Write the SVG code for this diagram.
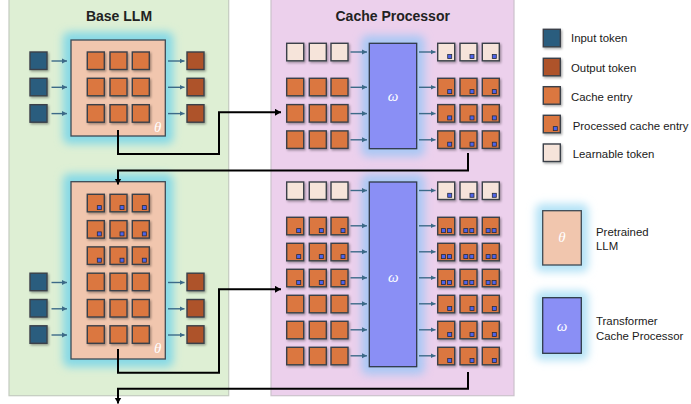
<svg xmlns="http://www.w3.org/2000/svg" width="691" height="404" viewBox="0 0 691 404">
<style>
.panel-g{fill:#deefd4;stroke:#c4cbc0;stroke-width:1.2}
.panel-p{fill:#ecd0ec;stroke:#cbc2cb;stroke-width:1.2}
.title{font-family:"Liberation Sans",Arial,sans-serif;font-weight:bold;font-size:14px;fill:#222;text-anchor:middle}
.lbl{font-family:"Liberation Sans",Arial,sans-serif;font-size:11.4px;fill:#1a1a1a}
.greek{font-family:"Liberation Serif","DejaVu Serif",serif;font-style:italic;font-size:15px;fill:#fff;text-anchor:middle}
.llm{fill:#f1c6ae;stroke:#3d4a55;stroke-width:1.3}
.omega{fill:#8a8ff5;stroke:#2f3a48;stroke-width:1.3}
.glc{fill:#86d9e6}
.glb{fill:#aac8f4}
.gll{fill:#b4e2f6}
.cell{stroke:#3a4149;stroke-width:1.4}
.c{fill:#db7740}
.i{fill:#2b5d7e}
.o{fill:#ae5229}
.l{fill:#f6e4da}
.dot{fill:#5064ea;stroke:#262c3c;stroke-width:0.8}
.ta{stroke:#3c6a88;stroke-width:1.4;fill:none;marker-end:url(#tah)}
.conn{stroke:#000;stroke-width:2;fill:none;marker-end:url(#cah)}
</style>
<defs>
<filter id="blur" x="-40%" y="-40%" width="180%" height="180%"><feGaussianBlur stdDeviation="4"/></filter>
<filter id="sh" x="-30%" y="-30%" width="170%" height="170%"><feDropShadow dx="1.2" dy="1.4" stdDeviation="0.9" flood-color="#000" flood-opacity="0.35"/></filter>
<marker id="tah" markerUnits="userSpaceOnUse" markerWidth="6" markerHeight="6" refX="5" refY="3" orient="auto"><path d="M0,0.5 L5,3 L0,5.5 Z" fill="#3c6a88"/></marker>
<marker id="cah" markerUnits="userSpaceOnUse" markerWidth="8" markerHeight="8" refX="6" refY="3.5" orient="auto"><path d="M0,0 L6,3.5 L0,7 Z" fill="#000"/></marker>
<g id="cc"><rect class="cell c" width="17" height="17.5"/></g>
<g id="cp"><rect class="cell c" width="17" height="17.5"/><rect class="dot" x="10" y="11.3" width="4" height="4"/></g>
<g id="cp2"><rect class="cell c" width="17" height="17.5"/><rect class="dot" x="3.8" y="11.3" width="4" height="4"/><rect class="dot" x="9.8" y="11.3" width="4" height="4"/></g>
<g id="ci"><rect class="cell i" width="17" height="17.5"/></g>
<g id="co"><rect class="cell o" width="17" height="17.5"/></g>
<g id="cl"><rect class="cell l" width="17" height="17.5"/></g>
<g id="clp"><rect class="cell l" width="17" height="17.5"/><rect class="dot" x="10" y="11.3" width="4" height="4"/></g>
</defs>

<g id="panel-base-llm">
<rect class="panel-g" x="9" y="-1" width="219.7" height="396.7"/>
<text class="title" x="119" y="21">Base LLM</text>
</g>
<g id="panel-cache-processor">
<rect class="panel-p" x="271" y="-1" width="243" height="396.7"/>
<text class="title" x="392.7" y="21">Cache Processor</text>
</g>

<g id="llm-top">
<rect class="glc" x="63" y="32" width="110.3" height="112" rx="6" filter="url(#blur)"/>
<rect class="llm" x="71" y="40" width="94.3" height="96"/>
<g filter="url(#sh)">
<use href="#cc" x="87.3" y="52"/><use href="#cc" x="110" y="52"/><use href="#cc" x="132.3" y="52"/>
<use href="#cc" x="87.3" y="78.3"/><use href="#cc" x="110" y="78.3"/><use href="#cc" x="132.3" y="78.3"/>
<use href="#cc" x="87.3" y="104.7"/><use href="#cc" x="110" y="104.7"/><use href="#cc" x="132.3" y="104.7"/>
<use href="#ci" x="30" y="52"/><use href="#ci" x="30" y="78.3"/><use href="#ci" x="30" y="104.7"/>
<use href="#co" x="187" y="52"/><use href="#co" x="187" y="78.3"/><use href="#co" x="187" y="104.7"/>
</g>
<text class="greek" x="157.7" y="131.5">θ</text>
<path class="ta" d="M51.5,61 H67"/><path class="ta" d="M51.5,87.3 H67"/><path class="ta" d="M51.5,113.6 H67"/>
<path class="ta" d="M168,61 H184.5"/><path class="ta" d="M168,87.3 H184.5"/><path class="ta" d="M168,113.6 H184.5"/>
</g>

<g id="llm-bottom">
<rect class="glc" x="63" y="173.7" width="110.3" height="193.3" rx="6" filter="url(#blur)"/>
<rect class="llm" x="71" y="181.7" width="94.3" height="177.3"/>
<g filter="url(#sh)">
<use href="#cp" x="87.3" y="194.3"/><use href="#cp" x="110" y="194.3"/><use href="#cp" x="132.3" y="194.3"/>
<use href="#cp" x="87.3" y="220.6"/><use href="#cp" x="110" y="220.6"/><use href="#cp" x="132.3" y="220.6"/>
<use href="#cp" x="87.3" y="246.9"/><use href="#cp" x="110" y="246.9"/><use href="#cp" x="132.3" y="246.9"/>
<use href="#cc" x="87.3" y="273.2"/><use href="#cc" x="110" y="273.2"/><use href="#cc" x="132.3" y="273.2"/>
<use href="#cc" x="87.3" y="299.5"/><use href="#cc" x="110" y="299.5"/><use href="#cc" x="132.3" y="299.5"/>
<use href="#cc" x="87.3" y="325.8"/><use href="#cc" x="110" y="325.8"/><use href="#cc" x="132.3" y="325.8"/>
<use href="#ci" x="30" y="273.2"/><use href="#ci" x="30" y="299.5"/><use href="#ci" x="30" y="325.8"/>
<use href="#co" x="187" y="273.2"/><use href="#co" x="187" y="299.5"/><use href="#co" x="187" y="325.8"/>
</g>
<text class="greek" x="157.7" y="353">θ</text>
<path class="ta" d="M51.5,282.5 H67"/><path class="ta" d="M51.5,308.8 H67"/><path class="ta" d="M51.5,335 H67"/>
<path class="ta" d="M168,282.5 H184.5"/><path class="ta" d="M168,308.8 H184.5"/><path class="ta" d="M168,335 H184.5"/>
</g>

<g id="cache-processor-top">
<rect class="glb" x="361.3" y="35.3" width="63.4" height="121.4" rx="6" filter="url(#blur)"/>
<rect class="omega" x="369.3" y="43.3" width="47.4" height="105.4"/>
<text class="greek" x="393" y="100.5">ω</text>
<g filter="url(#sh)">
<use href="#cl" x="286.7" y="43.3"/><use href="#cl" x="309.3" y="43.3"/><use href="#cl" x="331" y="43.3"/>
<use href="#cc" x="286.7" y="78.3"/><use href="#cc" x="309.3" y="78.3"/><use href="#cc" x="331" y="78.3"/>
<use href="#cc" x="286.7" y="104.6"/><use href="#cc" x="309.3" y="104.6"/><use href="#cc" x="331" y="104.6"/>
<use href="#cc" x="286.7" y="130.9"/><use href="#cc" x="309.3" y="130.9"/><use href="#cc" x="331" y="130.9"/>
<use href="#clp" x="437.7" y="43.3"/><use href="#clp" x="460" y="43.3"/><use href="#clp" x="482.3" y="43.3"/>
<use href="#cp" x="437.7" y="78.3"/><use href="#cp" x="460" y="78.3"/><use href="#cp" x="482.3" y="78.3"/>
<use href="#cp" x="437.7" y="104.6"/><use href="#cp" x="460" y="104.6"/><use href="#cp" x="482.3" y="104.6"/>
<use href="#cp" x="437.7" y="130.9"/><use href="#cp" x="460" y="130.9"/><use href="#cp" x="482.3" y="130.9"/>
</g>
<path class="ta" d="M350.5,52 H367"/><path class="ta" d="M350.5,87.3 H367"/><path class="ta" d="M350.5,113.6 H367"/><path class="ta" d="M350.5,139.8 H367"/>
<path class="ta" d="M419,52 H435.5"/><path class="ta" d="M419,87.3 H435.5"/><path class="ta" d="M419,113.6 H435.5"/><path class="ta" d="M419,139.8 H435.5"/>
</g>

<g id="cache-processor-bottom">
<rect class="glb" x="361.3" y="174" width="63.4" height="200.7" rx="6" filter="url(#blur)"/>
<rect class="omega" x="369.3" y="182" width="47.4" height="184.7"/>
<text class="greek" x="393.3" y="281.5">ω</text>
<g filter="url(#sh)">
<use href="#cl" x="286.7" y="182"/><use href="#cl" x="309.3" y="182"/><use href="#cl" x="331" y="182"/>
<use href="#cp" x="286.7" y="217.3"/><use href="#cp" x="309.3" y="217.3"/><use href="#cp" x="331" y="217.3"/>
<use href="#cp" x="286.7" y="243.3"/><use href="#cp" x="309.3" y="243.3"/><use href="#cp" x="331" y="243.3"/>
<use href="#cp" x="286.7" y="269.3"/><use href="#cp" x="309.3" y="269.3"/><use href="#cp" x="331" y="269.3"/>
<use href="#cc" x="286.7" y="295.3"/><use href="#cc" x="309.3" y="295.3"/><use href="#cc" x="331" y="295.3"/>
<use href="#cc" x="286.7" y="321.3"/><use href="#cc" x="309.3" y="321.3"/><use href="#cc" x="331" y="321.3"/>
<use href="#cc" x="286.7" y="347.3"/><use href="#cc" x="309.3" y="347.3"/><use href="#cc" x="331" y="347.3"/>
<use href="#clp" x="437.7" y="182"/><use href="#clp" x="460" y="182"/><use href="#clp" x="482.3" y="182"/>
<use href="#cp2" x="437.7" y="217.3"/><use href="#cp2" x="460" y="217.3"/><use href="#cp2" x="482.3" y="217.3"/>
<use href="#cp2" x="437.7" y="243.3"/><use href="#cp2" x="460" y="243.3"/><use href="#cp2" x="482.3" y="243.3"/>
<use href="#cp2" x="437.7" y="269.3"/><use href="#cp2" x="460" y="269.3"/><use href="#cp2" x="482.3" y="269.3"/>
<use href="#cp" x="437.7" y="295.3"/><use href="#cp" x="460" y="295.3"/><use href="#cp" x="482.3" y="295.3"/>
<use href="#cp" x="437.7" y="321.3"/><use href="#cp" x="460" y="321.3"/><use href="#cp" x="482.3" y="321.3"/>
<use href="#cp" x="437.7" y="347.3"/><use href="#cp" x="460" y="347.3"/><use href="#cp" x="482.3" y="347.3"/>
</g>
<path class="ta" d="M350.5,190.5 H367"/><path class="ta" d="M350.5,225.8 H367"/><path class="ta" d="M350.5,251.8 H367"/><path class="ta" d="M350.5,277.8 H367"/><path class="ta" d="M350.5,303.8 H367"/><path class="ta" d="M350.5,329.8 H367"/><path class="ta" d="M350.5,355.8 H367"/>
<path class="ta" d="M419,190.5 H435.5"/><path class="ta" d="M419,225.8 H435.5"/><path class="ta" d="M419,251.8 H435.5"/><path class="ta" d="M419,277.8 H435.5"/><path class="ta" d="M419,303.8 H435.5"/><path class="ta" d="M419,329.8 H435.5"/><path class="ta" d="M419,355.8 H435.5"/>
</g>

<g id="connectors">
<path class="conn" d="M118,130 V154 H219 V112.3 H281"/>
<path class="conn" d="M468,153 V170.6 H118 V184.5"/>
<path class="conn" d="M118,349 V372.7 H219 V289.3 H281"/>
<path class="conn" d="M468,372 V388.7 H118 V403.5"/>
</g>

<g id="legend-input-token"><use href="#ci" x="543.3" y="29.3" filter="url(#sh)"/><text class="lbl" x="571" y="42.3">Input token</text></g>
<g id="legend-output-token"><use href="#co" x="543.3" y="58.3" filter="url(#sh)"/><text class="lbl" x="571" y="71.5">Output token</text></g>
<g id="legend-cache-entry"><use href="#cc" x="543.3" y="86.7" filter="url(#sh)"/><text class="lbl" x="571" y="100.7">Cache entry</text></g>
<g id="legend-processed"><use href="#cp" x="543.3" y="115.3" filter="url(#sh)"/><text class="lbl" x="572.7" y="129.7">Processed cache entry</text></g>
<g id="legend-learnable"><use href="#cl" x="543.3" y="144" filter="url(#sh)"/><text class="lbl" x="572.7" y="157.7">Learnable token</text></g>
<g id="legend-pretrained-llm">
<rect class="gll" x="535.7" y="203.7" width="52.6" height="68.3" rx="6" filter="url(#blur)"/>
<rect class="llm" x="542.7" y="210.7" width="38.6" height="54.3"/>
<text class="greek" x="562" y="241.5">θ</text>
<text class="lbl" x="596" y="235.7">Pretrained</text>
<text class="lbl" x="596" y="250.2">LLM</text>
</g>
<g id="legend-transformer-cache-processor">
<rect class="gll" x="535.7" y="290.7" width="52.6" height="69.6" rx="6" filter="url(#blur)"/>
<rect class="omega" x="542.7" y="297.7" width="38.6" height="55.6"/>
<text class="greek" x="562" y="331">ω</text>
<text class="lbl" x="596" y="325">Transformer</text>
<text class="lbl" x="596" y="339.7">Cache Processor</text>
</g>
</svg>
